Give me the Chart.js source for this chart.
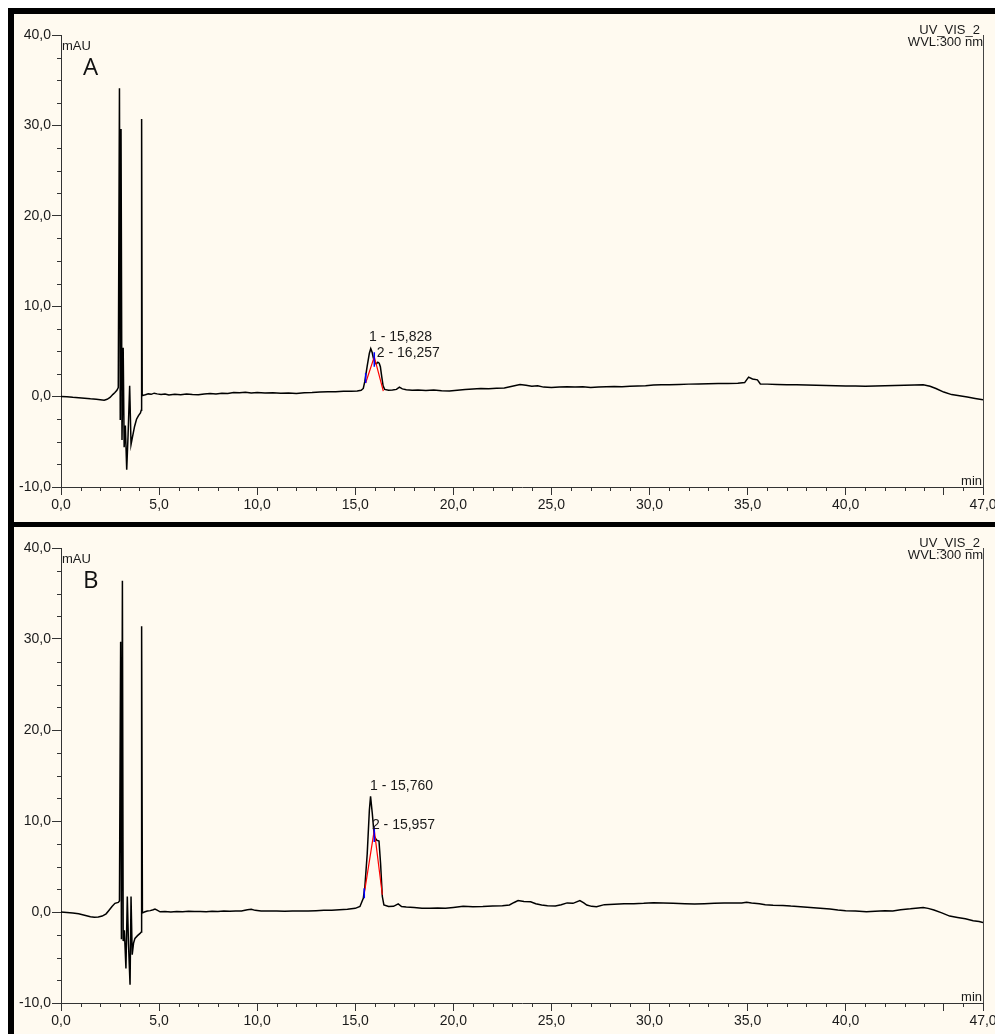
<!DOCTYPE html>
<html>
<head>
<meta charset="utf-8">
<script src="https://cdn.jsdelivr.net/npm/chart.js@4.4.1/dist/chart.umd.min.js"></script>
<style>
  html, body { margin: 0; padding: 0; background: #fff; }
  body { width: 995px; height: 1034px; position: relative; overflow: hidden; }
  .panel { position: absolute; background: #fffaf0; border-left: 6px solid #000; box-sizing: border-box; }
  #panelA { left: 8px; top: 8px; width: 987px; height: 514px; border-top: 6px solid #000; }
  #panelB { left: 8px; top: 522px; width: 987px; height: 512px; border-top: 5px solid #000; }
  canvas { position: absolute; left: 0; top: 0; }
</style>
</head>
<body>
<div class="panel" id="panelA"><canvas id="chartA" width="981" height="504"></canvas></div>
<div class="panel" id="panelB"><canvas id="chartB" width="981" height="507"></canvas></div>
<script>
// axis ticks
const xTickValues = [0, 5, 10, 15, 20, 25, 30, 35, 40, 45, 47];
const xTickLabels = ['0,0', '5,0', '10,0', '15,0', '20,0', '25,0', '30,0', '35,0', '40,0', '', '47,0'];
const yTickValues = [-10, 0, 10, 20, 30, 40];
const yTickLabels = ['-10,0', '0,0', '10,0', '20,0', '30,0', '40,0'];

// chromatogram A (time in min, signal in mAU)
const timeA = [0.0, 0.3, 0.6, 0.9, 1.2, 1.5, 1.8, 2.0, 2.2, 2.35, 2.5, 2.65, 2.75, 2.85, 2.92,
  2.98, 3.02, 3.06, 3.11, 3.17, 3.22, 3.28, 3.35, 3.42, 3.50, 3.57, 3.65, 3.75, 3.85, 3.95, 4.05, 4.09, 4.11, 4.14,
  4.2, 4.3, 4.45, 4.6, 4.75, 4.9, 5.1, 5.3, 5.5, 5.8, 6.1, 6.4, 6.7, 7.0, 7.3, 7.6, 7.9, 8.2, 8.5, 8.8, 9.1, 9.4, 9.7,
  10.0, 10.4, 10.8, 11.2, 11.6, 12.0, 12.4, 12.8, 13.2, 13.6, 14.0, 14.4, 14.8, 15.1, 15.3,
  15.41, 15.49, 15.61, 15.72, 15.79, 15.86, 15.92, 16.0, 16.07, 16.15, 16.22, 16.28, 16.35, 16.42, 16.5,
  16.7, 16.9, 17.1, 17.25, 17.4, 17.6, 17.9, 18.2, 18.6, 19.0, 19.4, 19.8, 20.2, 20.6, 21.0, 21.4, 21.8, 22.2, 22.6,
  23.0, 23.4, 23.7, 24.0, 24.3, 24.6, 25.0, 25.4, 25.8, 26.2, 26.6, 27.0, 27.4, 27.8, 28.2, 28.6, 29.0, 29.4, 29.8,
  30.2, 30.6, 31.0, 31.5, 32.0, 32.5, 33.0, 33.5, 34.0, 34.5, 34.85, 35.05, 35.25, 35.5, 35.65, 36.0, 36.5, 37.0,
  37.5, 38.0, 38.5, 39.0, 39.5, 40.0, 40.5, 41.0, 41.5, 42.0, 42.5, 43.0, 43.5, 43.95, 44.3, 44.6, 45.0, 45.4,
  45.8, 46.2, 46.6, 47.0];
const signalA = [0.00, -0.02, -0.08, -0.12, -0.18, -0.25, -0.30, -0.35, -0.40, -0.30, -0.10, 0.25, 0.45, 0.70, 1.00,
  34.1, -2.6, 29.6, -4.8, 5.4, -5.6, -3.2, -8.1, -4.2, 1.2, -5.3, -4.4, -3.3, -2.5, -2.1, -1.8, -1.5, 30.7, 0.1,
  0.15, 0.2, 0.3, 0.25, 0.38, 0.3, 0.22, 0.28, 0.18, 0.25, 0.2, 0.28, 0.22, 0.2, 0.3, 0.35, 0.3, 0.38, 0.35, 0.45, 0.42, 0.48, 0.4,
  0.45, 0.4, 0.42, 0.38, 0.4, 0.35, 0.42, 0.45, 0.5, 0.55, 0.55, 0.6, 0.58, 0.62, 0.7,
  0.9, 1.7, 3.4, 4.8, 5.3, 4.9, 4.3, 3.8, 3.6, 3.8, 3.7, 3.3, 2.2, 1.2, 0.8,
  0.7, 0.72, 0.8, 1.05, 0.85, 0.75, 0.7, 0.72, 0.68, 0.72, 0.65, 0.62, 0.7, 0.78, 0.85, 0.9, 0.88, 0.92, 0.95,
  1.15, 1.35, 1.25, 1.15, 1.2, 1.05, 1.0, 1.05, 1.1, 1.05, 1.08, 1.02, 1.05, 1.08, 1.12, 1.1, 1.15, 1.18, 1.2,
  1.28, 1.3, 1.3, 1.35, 1.38, 1.4, 1.42, 1.45, 1.45, 1.48, 1.55, 2.15, 1.95, 1.85, 1.4, 1.38, 1.35, 1.32,
  1.3, 1.28, 1.25, 1.22, 1.2, 1.18, 1.18, 1.15, 1.18, 1.2, 1.22, 1.25, 1.28, 1.3, 1.15, 0.9, 0.5, 0.22,
  0.1, -0.05, -0.2, -0.35];

// chromatogram B
const timeB = [0.0, 0.3, 0.6, 0.9, 1.2, 1.5, 1.7, 1.9, 2.1, 2.3, 2.45, 2.6, 2.75, 2.92, 2.98,
  3.04, 3.08, 3.13, 3.17, 3.23, 3.31, 3.38, 3.44, 3.52, 3.57, 3.63, 3.7, 3.77, 3.9, 4.03, 4.09, 4.11, 4.15,
  4.25, 4.4, 4.55, 4.7, 4.79, 4.9, 5.05, 5.3, 5.6, 5.9, 6.2, 6.5, 6.8, 7.1, 7.4, 7.7, 8.0, 8.3, 8.6, 8.9, 9.2, 9.5, 9.7,
  9.9, 10.2, 10.6, 11.0, 11.4, 11.8, 12.2, 12.6, 13.0, 13.4, 13.8, 14.2, 14.6, 15.0, 15.24,
  15.41, 15.49, 15.61, 15.72, 15.78, 15.87, 15.97, 16.09, 16.21, 16.29, 16.38, 16.46,
  16.7, 16.95, 17.19, 17.36, 17.6, 18.0, 18.4, 18.8, 19.2, 19.6, 20.0, 20.5, 21.0, 21.5, 22.0, 22.5, 22.86,
  23.1, 23.3, 23.6, 23.94, 24.2, 24.5, 24.8, 25.2, 25.5, 25.8, 26.1, 26.45, 26.65, 26.8, 27.05, 27.3, 27.7,
  28.2, 28.7, 29.2, 29.7, 30.2, 30.7, 31.2, 31.8, 32.3, 32.8, 33.3, 33.8, 34.3, 34.7, 34.95, 35.2, 35.6, 35.9,
  36.3, 36.8, 37.2, 37.7, 38.2, 38.7, 39.2, 39.6, 40.0, 40.5, 41.06, 41.5, 42.0, 42.4, 42.8, 43.3, 43.7, 43.95,
  44.2, 44.5, 44.9, 45.3, 45.7, 46.1, 46.5, 46.8, 47.0];
const signalB = [0.0, -0.05, -0.12, -0.2, -0.35, -0.52, -0.58, -0.55, -0.45, -0.2, 0.2, 0.6, 0.95, 1.05, 1.2,
  29.7, -3.0, 36.4, -3.2, -2.0, -6.2, 1.7, -3.5, -8.0, 1.7, -4.7, -3.4, -2.9, -2.6, -2.35, -2.2, 31.4, -0.1,
  0.0, 0.1, 0.15, 0.25, 0.32, 0.2, 0.02, 0.05, 0.0, 0.05, 0.02, 0.08, 0.05, 0.05, 0.02, 0.08, 0.05, 0.1, 0.08, 0.1, 0.12, 0.25, 0.3,
  0.18, 0.12, 0.1, 0.12, 0.08, 0.12, 0.1, 0.12, 0.15, 0.18, 0.2, 0.25, 0.3, 0.4, 0.6,
  1.5, 2.8, 6.4, 11.2, 12.7, 10.8, 8.3, 7.9, 7.8, 5.35, 1.7, 0.77,
  0.6, 0.62, 0.9, 0.6, 0.55, 0.5, 0.42, 0.4, 0.45, 0.42, 0.5, 0.62, 0.58, 0.6, 0.65, 0.7, 0.77,
  1.05, 1.25, 1.15, 1.13, 0.9, 0.77, 0.7, 0.66, 0.8, 1.0, 0.95, 1.25, 1.0, 0.77, 0.62, 0.59, 0.81,
  0.85, 0.9, 0.92, 0.95, 1.02, 0.98, 0.95, 0.9, 0.88, 0.92, 0.95, 0.98, 1.0, 0.98, 1.08, 1.0, 0.9, 0.8,
  0.75, 0.72, 0.65, 0.59, 0.5, 0.4, 0.32, 0.22, 0.15, 0.1, 0.03, 0.08, 0.15, 0.12, 0.25, 0.35, 0.45, 0.5,
  0.4, 0.22, -0.1, -0.45, -0.6, -0.75, -0.96, -1.05, -1.17];

// integration baselines (red) and peak delimiters (blue)
const redTimeA = [15.53, 15.97, 16.43];
const redSignalA = [1.5, 4.4, 0.6];
const blueTimeA = [15.53, 15.53, null, 15.97, 15.97, null, 16.43, 16.43];
const blueSignalA = [1.5, 2.6, null, 3.3, 4.9, null, 0.2, 1.1];

const redTimeB = [15.46, 15.97, 16.38];
const redSignalB = [2.05, 9.0, 1.9];
const blueTimeB = [15.46, 15.46, null, 15.97, 15.97, null, 16.38, 16.38];
const blueSignalB = [1.5, 2.6, null, 7.7, 9.3, null, 1.75, 2.7];

// peak labels
const peakTextA = ['1 - 15,828', '2 - 16,257'];
const peakTimeA = [15.7, 16.1];
const peakSignalA = [6.6, 4.85];
const peakTextB = ['1 - 15,760', '2 - 15,957'];
const peakTimeB = [15.75, 15.85];
const peakSignalB = [13.85, 9.55];

const TXT = '#1a1a1a';
const AXIS = '#333';
const FONT = '"Liberation Sans", Arial, sans-serif';

function pts(xs, ys) {
  return xs.map((x, i) => ({ x: x === null ? NaN : x, y: ys[i] }));
}

const chromPlugin = {
  id: 'chrom',
  afterDraw(chart, args, opts) {
    const { ctx, chartArea: a, scales: { x, y } } = chart;
    ctx.save();
    // minor ticks
    ctx.strokeStyle = AXIS;
    ctx.lineWidth = 1;
    ctx.beginPath();
    for (let t = 1; t < 47; t++) {
      if (t % 5 === 0) continue;
      const px = Math.round(x.getPixelForValue(t)) + 0.5;
      ctx.moveTo(px, a.bottom);
      ctx.lineTo(px, a.bottom + 4);
    }
    for (let v = -7.5; v < 40; v += 2.5) {
      if (v % 10 === 0) continue;
      const py = Math.round(y.getPixelForValue(v)) + 0.5;
      ctx.moveTo(a.left - 4, py);
      ctx.lineTo(a.left, py);
    }
    ctx.stroke();

    ctx.fillStyle = TXT;
    ctx.font = '13px ' + FONT;
    ctx.textBaseline = 'alphabetic';
    ctx.textAlign = 'left';
    ctx.fillText('mAU', a.left + 1, a.top + 15);
    ctx.textAlign = 'right';
    ctx.fillText('UV_VIS_2', a.right - 3, a.top - 1);
    ctx.fillText('WVL:300 nm', a.right, a.top + 11);
    ctx.fillText('min', a.right - 1, a.bottom - 2);

    ctx.font = '14px ' + FONT;
    ctx.textAlign = 'left';
    ctx.textBaseline = 'middle';
    opts.peakText.forEach((s, i) => {
      ctx.fillText(s, x.getPixelForValue(opts.peakTime[i]), y.getPixelForValue(opts.peakSignal[i]));
    });

    ctx.textBaseline = 'alphabetic';
    ctx.font = '24px "Open Sans", sans-serif';
    ctx.fillStyle = '#111';
    ctx.fillText(opts.letter, a.left + 22, a.top + 40);
    ctx.restore();
  }
};

function makeChart(id, trace, red, blue, peaks, letter) {
  return new Chart(document.getElementById(id), {
    type: 'line',
    data: {
      datasets: [
        { data: blue, borderColor: '#0000ff', borderWidth: 1.5, spanGaps: false, order: 0 },
        { data: red, borderColor: '#ff0000', borderWidth: 1.2, order: 1 },
        { data: trace, borderColor: '#000', borderWidth: 1.5, order: 2 }
      ]
    },
    options: {
      responsive: false,
      animation: false,
      events: [],
      parsing: false,
      normalized: true,
      elements: { point: { radius: 0 }, line: { tension: 0, borderJoinStyle: 'miter' } },
      layout: { padding: { top: 21, right: 12, left: 0, bottom: 0 } },
      plugins: {
        legend: { display: false },
        tooltip: { enabled: false },
        chrom: { letter: letter, peakText: peaks[0], peakTime: peaks[1], peakSignal: peaks[2] }
      },
      scales: {
        x: {
          type: 'linear',
          min: 0,
          max: 47,
          afterBuildTicks: s => { s.ticks = xTickValues.map(v => ({ value: v })); },
          afterFit: s => { s.height = 31; s.paddingLeft = 0; s.paddingRight = 0; },
          ticks: {
            autoSkip: false,
            maxRotation: 0,
            padding: 2,
            color: TXT,
            font: { family: FONT, size: 14 },
            callback: (v, i) => xTickLabels[i]
          },
          grid: {
            drawOnChartArea: true,
            color: c => (c.tick && c.tick.value === 47 ? '#444' : 'rgba(0,0,0,0)'),
            tickColor: AXIS,
            tickLength: 8,
            lineWidth: 1
          },
          border: { display: true, color: AXIS, width: 1 }
        },
        y: {
          type: 'linear',
          min: -10,
          max: 40,
          afterBuildTicks: s => { s.ticks = yTickValues.map(v => ({ value: v })); },
          afterFit: s => { s.width = 47; s.paddingTop = 0; s.paddingBottom = 0; },
          ticks: {
            autoSkip: false,
            padding: 1,
            color: TXT,
            font: { family: FONT, size: 14 },
            callback: (v, i) => yTickLabels[i]
          },
          grid: { drawOnChartArea: false, tickColor: AXIS, tickLength: 9 },
          border: { display: true, color: AXIS, width: 1 }
        }
      }
    },
    plugins: [chromPlugin]
  });
}

makeChart('chartA', pts(timeA, signalA), pts(redTimeA, redSignalA), pts(blueTimeA, blueSignalA),
  [peakTextA, peakTimeA, peakSignalA], 'A');
makeChart('chartB', pts(timeB, signalB), pts(redTimeB, redSignalB), pts(blueTimeB, blueSignalB),
  [peakTextB, peakTimeB, peakSignalB], 'B');
</script>
</body>
</html>
